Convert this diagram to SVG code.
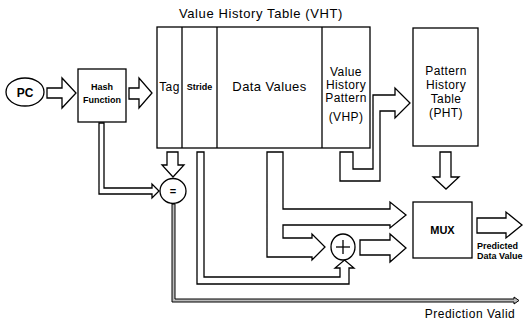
<svg xmlns="http://www.w3.org/2000/svg" width="530" height="322" viewBox="0 0 530 322">
<style>
.box{fill:#fff;stroke:#000;stroke-width:1.3}
.ar{fill:#fff;stroke:#000;stroke-width:1.3;stroke-linejoin:miter}
.thin{fill:#bbb;stroke:#000;stroke-width:1}
.t{font-family:"Liberation Sans",Arial,sans-serif;font-size:12px;fill:#000;text-anchor:middle;letter-spacing:0.4px}
.b{font-family:"Liberation Sans",Arial,sans-serif;font-weight:bold;fill:#000;text-anchor:middle}
</style>
<rect width="530" height="322" fill="#fff"/>
<text class="t" x="261" y="18" style="font-size:13px;letter-spacing:0.6px">Value History Table (VHT)</text>

<g id="connectors">
  <polygon class="ar" points="47,88 62,88 62,78 76,93 62,108 62,98 47,98"/>
  <polygon class="ar" points="129,88 139,88 139,78 152,93 139,108 139,99 129,99"/>
  <polygon class="ar" points="99,123 104,123 104,188 152,188 152,184 159,191 152,198 152,194 99,194"/>
  <polygon class="ar" points="167,152 178,152 178,165 184,165 173,177 162,165 167,165"/>
  <polygon class="thin" points="172,204 175,204 175,299 514,299 514,297 519,300.5 514,304 514,302 172,302"/>
  <polygon class="ar" points="197,152 204,152 204,277 340,277 340,268 335,268 344.5,260 354,268 349,268 349,284 197,284"/>
  <polygon class="ar" points="267,152 283,152 283,209 390,209 390,202 406,215 390,228 390,225 283,225 283,238 312,238 312,234 325,247 312,260 312,257 267,257"/>
  <polygon class="ar" points="360,240 390,240 390,234 406,248 390,262 390,255 360,255"/>
  <polygon class="ar" points="340,152 353,152 353,169 373,169 373,95 395,95 395,88 410,103 395,118 395,111 380,111 380,181 340,181"/>
  <polygon class="ar" points="440,152 451,152 451,177 459,177 446,189 433,177 440,177"/>
  <polygon class="ar" points="477,218 506,218 506,212 522,225 506,238 506,233 477,233"/>
</g>

<g id="pc">
  <ellipse class="box" cx="25" cy="92" rx="19" ry="14"/>
  <text class="b" x="25" y="96.5" style="font-size:12px">PC</text>
</g>

<g id="hash">
  <rect class="box" x="78" y="69" width="48" height="53"/>
  <text class="b" x="102" y="90" style="font-size:9px">Hash</text>
  <text class="b" x="102" y="103" style="font-size:9px">Function</text>
</g>

<g id="vht">
  <rect class="box" x="157" y="27" width="213" height="121"/>
  <line x1="182" y1="27" x2="182" y2="148" stroke="#000" stroke-width="1.3"/>
  <line x1="217" y1="27" x2="217" y2="148" stroke="#000" stroke-width="1.3"/>
  <line x1="322" y1="27" x2="322" y2="148" stroke="#000" stroke-width="1.3"/>
  <text class="t" x="169.5" y="91">Tag</text>
  <text class="b" x="199.5" y="90" style="font-size:9px">Stride</text>
  <text class="t" x="269.5" y="91" style="font-size:13px">Data Values</text>
  <text class="t" x="346" y="76">Value</text>
  <text class="t" x="346" y="89">History</text>
  <text class="t" x="346" y="102">Pattern</text>
  <text class="t" x="346" y="121">(VHP)</text>
</g>

<g id="pht">
  <rect class="box" x="413" y="28" width="65" height="118"/>
  <text class="t" x="446" y="75">Pattern</text>
  <text class="t" x="446" y="89">History</text>
  <text class="t" x="446" y="103">Table</text>
  <text class="t" x="446" y="117">(PHT)</text>
</g>

<g id="eq">
  <ellipse class="box" cx="173" cy="191" rx="13" ry="12.5"/>
  <text class="b" x="173" y="195" style="font-size:11px">=</text>
</g>

<g id="plus">
  <ellipse class="box" cx="343" cy="247" rx="12" ry="13"/>
  <line x1="336" y1="247" x2="350" y2="247" stroke="#000" stroke-width="1.3"/>
  <line x1="343" y1="240" x2="343" y2="254" stroke="#000" stroke-width="1.3"/>
</g>

<g id="mux">
  <rect class="box" x="413" y="202" width="59" height="56"/>
  <text class="b" x="442.5" y="234" style="font-size:11px">MUX</text>
</g>

<g id="labels">
  <text class="b" x="477" y="249" style="font-size:9px;text-anchor:start">Predicted</text>
  <text class="b" x="477" y="259" style="font-size:9px;text-anchor:start">Data Value</text>
  <text class="t" x="470" y="318" style="letter-spacing:0.5px">Prediction Valid</text>
</g>
</svg>
